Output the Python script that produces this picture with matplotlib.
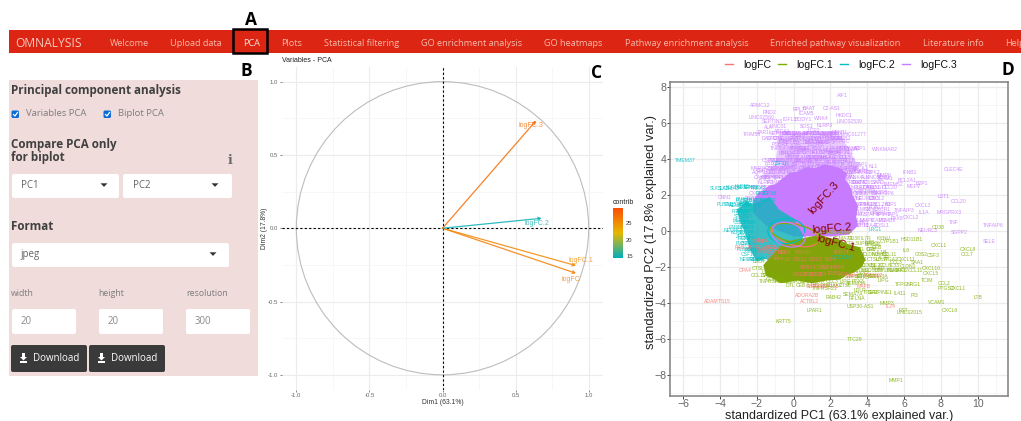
import matplotlib
matplotlib.use("Agg")
import numpy as np
import matplotlib.pyplot as plt
import matplotlib.patches as patches
from itertools import cycle
from matplotlib.colors import LinearSegmentedColormap, Normalize
from matplotlib.lines import Line2D

# nav bar and side panel
nav_labels = ["Welcome", "Upload data", "PCA", "Plots", "Statistical filtering", "GO enrichment analysis",
              "GO heatmaps", "Pathway enrichment analysis", "Enriched pathway visualization", "Literature info"]
nav_centers = [129, 196, 252, 292, 362, 472, 573, 687, 835, 953]

# variables PCA (panel C)
var_names = ["logFC", "logFC.1", "logFC.2", "logFC.3"]
var_x = [0.913, 0.913, 0.678, 0.640]
var_y = [-0.307, -0.255, 0.068, 0.734]
var_contrib = [26.0, 25.5, 14.8, 27.5]
var_label_x = [0.879, 0.945, 0.644, 0.607]
var_label_y = [-0.348, -0.223, 0.031, 0.698]

# biplot labels (panel D)
purple_names = ["AIF1", "ARMC12", "RND2", "RPL7", "BAAT", "C2-AS1", "ICAM5", "HKDC1", "LINC02539", "LINC02560",
                "SEPTIN3", "IGFL1", "BODY1", "WNK4", "ALK", "LINC01", "SOS1", "NLRP3", "TRIM58", "ZAR1L", "DACT2",
                "LINC01277", "SAA2", "PSCR1", "CD8A", "WNKMAR2", "CLEC4E", "IFNB1", "LST1", "CCL20", "CXCL3", "IL1A",
                "MRGPRX3", "TNFAIP3", "TNF", "TNFAIP6", "SGPP2", "SELE", "NEURL3", "CXCL2", "PAX8", "MEFV", "BCL2A1",
                "B2P1", "TMEM52", "CNN1", "CXCR1", "NFKB2", "STAT4", "SP140", "TAP1", "NL1", "MMP9", "ICAM1",
                "PSMB9", "ZC3H12", "HLA-E", "FOSL1", "CSF2", "ZNF676", "KCNH2", "ITGB7", "SLC2A6", "GBP5", "IRF1",
                "IL7R", "TRAF1", "RELB", "NFKB1", "BIRC3", "TNIP1", "DUSP2", "SOD2", "CCL5", "PLEK", "FPR1", "CD83",
                "MAP3K8", "CD69", "SLAMF7", "LAMP3", "HCAR2", "OASL", "IDO1", "EBI3", "CD274", "MX1", "GPR84",
                "ABCA1", "AQP9", "LCP2", "DOCK2", "PTPRC", "NCF2", "TLR2", "LILRB2", "CYTIP", "PIK3CD", "RIPK2", "CASP5"]
purple_x = [2.66, -1.79, -1.29, 0.30, 0.82, 2.08, 0.71, 2.75, 3.03, -1.74,
            -1.16, -0.20, 0.53, 1.52, -1.38, -0.83, 0.71, 1.70, -2.28, -1.56, -1.29,
            3.24, 2.34, -0.74, 3.15, 4.96, 8.71, 6.29, 8.17, 8.97, 7.05, 7.08,
            8.46, 6.00, 8.68, 10.85, 9.00, 10.63, 7.26, 6.36, 5.60, 6.50, 6.14,
            6.96, 5.42, -3.73, -0.2, 1.0, 3.5, 3.9, 3.7, 4.3, 4.9, 5.0,
            4.0, 3.3, 3.1, 4.5, -1.7, -1.4, -0.8, 0.2, 1.3, 2.2, 1.6,
            0.1, 0.9, 1.8, 2.5, -0.4, 0.5, 1.2, 2.0, 2.8, -0.9, -1.2, -0.2,
            0.7, 1.5, 2.3, 3.0, 3.6, 4.1, 3.4, 4.4, 2.9, 3.8, 4.6,
            -0.6, 0.3, 1.1, 1.9, 2.6, 0.0, 0.8, 1.6, 2.4, -0.3, 3.3, 4.7]
purple_y = [7.52, 7.00, 6.57, 6.76, 6.81, 6.81, 6.54, 6.43, 6.07, 6.30,
            6.11, 6.22, 6.17, 6.26, 5.74, 5.80, 5.80, 5.89, 5.37, 5.46, 5.15,
            5.37, 5.15, 4.78, 4.54, 4.54, 3.43, 3.24, 1.91, 1.63, 1.41, 1.04,
            1.04, 1.13, 0.46, 0.28, -0.07, -0.57, 0.02, 0.74, 0.70, 2.46, 2.83,
            2.65, 2.61, 1.85, 5.40, 5.40, 2.70, 1.50, 3.70, 3.60, 3.10, 2.90,
            2.20, 1.00, 1.90, 1.30, 3.35, 2.90, 3.50, 3.90, 4.10, 4.30, 4.90,
            4.70, 5.10, 5.35, 5.45, 4.30, 4.50, 4.80, 4.50, 4.10, 3.90, 3.70, 3.55,
            3.85, 3.60, 3.80, 3.50, 3.30, 2.40, 2.20, 1.80, 0.70, 0.50, 0.95,
            5.55, 5.30, 5.60, 5.25, 5.00, 4.20, 3.50, 4.00, 3.20, 5.05, 0.30, 2.15]
# the crowded labels, read row by row: one y and the x positions along it
purple_row_y = [5.4, 5.15, 4.9, 4.6, 4.35, 4.1, 3.9, 3.7, 3.5, 3.25, 3.0, 2.7, 2.4, 2.1, 1.8, 1.5, 1.2, 0.9, 0.6, 0.3]
purple_row_x = [[-0.7, -0.3, 0.0, 0.4, 0.7, 1.0, 1.3, 1.7, 2.0, 2.3],
                [-1.0, -0.4, 0.1, 0.6, 1.2, 1.8, 2.2, 2.7],
                [-0.6, -0.1, 0.4, 0.9, 1.3, 1.7],
                [-1.0, -0.3, 0.2, 0.6, 1.0, 1.5, 2.3, 2.7, 3.1, 3.6],
                [-0.2, 0.4, 0.9, 1.3, 1.8, 2.2, 2.6, 3.0],
                [-0.1, 0.5, 1.1, 1.5, 2.0, 2.5],
                [-1.4, -0.9, -0.5, 0.0, 0.5, 1.0, 1.5, 2.0, 2.5, 3.0],
                [-0.2, 0.3, 0.8, 1.2, 1.6, 2.0, 2.4, 2.9, 3.3],
                [-1.8, -1.2, -0.8, -0.3, 0.2, 0.6, 1.1, 1.6, 2.1, 2.6, 3.1, 3.6],
                [-1.9, -1.3, -0.9, -0.4, 0.0, 0.5, 2.9, 3.3, 3.8, 4.3],
                [-1.7, -1.1, -0.7, 2.9, 3.4, 3.9, 4.4, 4.9],
                [-1.5, -1.0, 3.1, 3.6, 4.1, 4.6],
                [-1.9, -1.4, 3.2, 3.8, 4.3, 4.8, 5.2],
                [-2.0, -1.6, 3.3, 3.9, 4.4, 4.9],
                [-2.2, 3.4, 3.9, 4.5],
                [3.6, 4.2, 4.8, 5.3],
                [3.6, 4.2, 4.8],
                [3.5, 4.2, 4.9, 5.4],
                [3.5, 4.0, 4.6, 5.1],
                [3.6, 4.2, 4.8]]

olive_names = ["MMP1", "TTC29", "KRT75", "LPAR1", "USP30-AS1", "MMP3", "FST", "LINC02015", "RAB42", "VCAM1", "CXCL6",
               "LTB", "PI3", "IL411", "CCL2", "PTGS2", "CXCL1", "TCIM", "CXCL5", "CXCL10", "CXCL11", "IL6", "G0S2",
               "CSF3", "CXCL1", "CXCL8", "CCL7", "SEMA3A", "TNFRSF21", "RFLNA", "SEMA7A", "CD38", "IL7R", "CCL3",
               "LIPG", "PTX3", "DTL", "CEB", "IL1B", "CLDN1", "NUAK2", "CCL11", "SAA1", "CTSL", "LDLR", "ITGA2",
               "COL8A1", "CCDC3", "UBE2C", "CCL8", "IL33", "LINC01", "KYNU", "HSD11B1", "CYP1B1", "PLAU", "TFPI2",
               "NRG1", "AREG", "SERPINE1"]
olive_x = [5.54, 3.33, -0.56, 1.12, 3.64, 5.05, 5.96, 6.29, 2.16, 7.77, 8.50,
           10.00, 6.56, 5.78, 8.17, 8.30, 8.95, 7.23, 7.46, 7.46, 6.14, 6.10, 6.92,
           7.59, 7.92, 9.46, 9.42, 3.42, 1.70, 3.42, 3.24, 7.86, 4.90, 5.55,
           4.90, 3.75, 4.20, 4.50, 4.80, 6.20, 5.70, 6.60, 6.70, 2.80, 3.60, 4.20,
           -1.00, 0.20, -1.30, -0.75, 4.10, 4.35, 4.90, 6.40, 5.20, 4.60, 5.90, 6.50, 3.90, 4.70]
olive_y = [-8.33, -6.00, -5.00, -4.43, -4.20, -4.02, -4.39, -4.54, -3.70, -3.96, -4.43,
           -3.69, -3.57, -3.46, -2.93, -3.19, -3.20, -2.76, -2.37, -2.06, -1.57, -1.07, -1.28,
           -1.37, -0.81, -1.04, -1.31, -2.90, -3.19, -3.74, -3.52, 0.20, -1.45, -1.75,
           -2.75, -2.60, -1.00, -0.90, -1.20, -1.95, -2.20, -2.20, -1.75, -3.05, -3.30, -3.40,
           -2.67, -2.70, -2.30, -2.45, -0.65, -0.75, -0.40, -0.45, -0.60, -2.10, -2.95, -2.95, -2.35, -3.40]
olive_row_y = [-0.1, -0.4, -0.7, -1.0, -1.3, -1.6, -1.9, -2.2, -2.5, -2.8, -3.0, -2.45, -2.1, -1.7]
olive_row_x = [[1.5, 2.2, 2.8],
               [2.7, 3.3, 3.9],
               [3.2, 3.8, 4.3],
               [3.6, 4.2],
               [3.6, 4.2, 4.7, 5.2],
               [3.7, 4.3, 4.8, 5.3],
               [3.4, 4.0, 4.5, 5.0, 5.5],
               [3.1, 3.7, 4.3, 4.9, 5.4, 5.9],
               [2.8, 3.4, 4.0, 4.6],
               [-1.2, -0.6, 0.0, 0.7, 1.4, 2.1, 2.8, 3.5],
               [-0.2, 0.4, 1.0, 1.6, 2.2],
               [-1.9, -1.4],
               [-1.9],
               [-1.9]]

teal_names = ["TMEM37", "SUCLA2", "SLC16A3", "KLF15", "SENP8", "RFX2", "ZFP36", "PLBD1", "PLBSP3", "ASH1", "CSF1R",
              "NEURL1", "ZFP82", "PDGFB", "FRMD4", "HSPB7", "STAB1", "LRG1", "CCDC80", "CSPG4", "EMILIN1", "MFAP4"]
teal_x = [-5.90, -4.00, -3.55, -2.80, -2.30, -1.90, -2.55, -3.75, -3.25, -2.65, -0.70,
          -3.28, -2.70, -2.20, -2.10, -2.85, -2.70, 4.42, 2.60, -2.45, -2.60, -2.50]
teal_y = [3.94, 2.37, 2.36, 2.50, 2.40, 2.38, 1.20, 1.48, 1.50, 1.48, 3.75,
          0.02, -0.30, -1.10, -1.60, 0.60, 0.95, 0.09, -1.45, -0.70, 1.75, 1.55]
teal_row_y = [2.4, 2.1, 1.7, 1.4, 1.1, 0.8, 0.5, 0.2, -0.1, -0.4, -0.7, -1.0, -1.3, -1.6]
teal_row_x = [[-3.3, -2.6],
              [-1.7, -1.3],
              [-2.7, -2.2, -1.8, -1.4],
              [-3.0, -2.6, -2.2],
              [-2.9, -2.5],
              [-2.8, -2.5],
              [-2.7, -2.5],
              [-3.0, -2.6],
              [-3.0, -2.6],
              [-2.7, -2.4],
              [-2.7],
              [-2.6, -2.3],
              [-2.4],
              [-2.4, -1.9]]

salmon_names = ["ADAMTS15", "CPA4", "RAB11FIP", "ADORA2B", "ACTBL2", "GBP1", "IL24", "PDE4", "SP4", "ADAM12", "TRIB1",
                "ZNF185", "NEK6", "PPP1R", "RGS2", "ODC1", "KLF4", "SPRY4", "ETS1", "MAFB"]
salmon_x = [-4.13, -2.64, -2.55, 0.71, 0.89, 1.03, 5.27, -1.60, 3.05, 4.30, 2.20,
            -1.30, -1.75, -0.60, 0.30, 1.20, 1.80, 2.60, -1.10, 3.80]
salmon_y = [-3.89, -2.22, -0.91, -3.59, -3.89, -3.06, -4.22, -1.15, -2.50, -2.45, -2.35,
            -1.00, -0.55, -1.60, -2.40, -2.40, -2.05, -1.20, -1.45, -3.10]
salmon_row_y = [-0.6, -0.9, -1.2, -1.6, -2.0, -2.4, -3.1]
salmon_row_x = [[-2.0, -1.6],
                [-1.5, -1.1],
                [-0.9, -0.5, 0.5],
                [0.4, 1.2, 2.0],
                [0.8, 1.6, 2.4],
                [0.9, 1.6, 3.0],
                [1.4, 2.0]]

# outlines of the areas where the labels overlap into a solid colour
purple_blob_x = [-2.2, -1.9, -1.6, -1.3, -1.0, -0.7, -0.5, -0.2, 0.2, 0.7, 1.2, 1.7, 2.2, 2.6, 2.9, 2.8, 3.0, 3.15, 3.2, 3.5, 3.4, 3.5, 3.0, 2.0, 0.0, -1.5, -2.2]
purple_blob_y = [1.7, 2.15, 2.3, 2.55, 2.6, 2.85, 3.0, 3.25, 3.3, 3.55, 3.5, 3.7, 3.6, 3.45, 3.2, 2.85, 2.6, 2.3, 2.0, 1.4, 0.8, 0.3, -0.2, -0.3, -0.3, 0.3, 1.0]
purple_haze_x = [-1.8, -1.0, -0.8, 2.4, 3.0, 3.5, 3.0]
purple_haze_y = [3.0, 3.7, 5.5, 5.5, 4.6, 3.6, 2.8]
teal_blob_x = [-3.1, -2.8, -2.6, -2.3, -2.0, -1.6, -1.3, -0.8, 0.0, 0.5, 0.0, -1.0, -1.6, -2.0, -2.2, -2.4, -2.5, -2.6, -2.75, -2.9]
teal_blob_y = [1.2, 1.4, 1.7, 1.5, 1.6, 1.75, 1.9, 1.2, 0.7, -0.2, -1.3, -1.7, -1.55, -1.7, -1.35, -1.0, -0.6, -0.2, 0.15, 0.5]
olive_blob_x = [-1.4, -0.5, 1.0, 1.4, 2.0, 2.5, 3.0, 3.6, 3.9, 3.7, 3.3, 2.9, 2.5, 1.8, 1.0, 0.2, -0.7, -1.2, -1.5, -1.65]
olive_blob_y = [-1.6, -0.6, -0.3, -0.2, -0.4, -0.5, -0.75, -0.9, -1.6, -2.0, -2.3, -2.45, -2.7, -2.75, -2.9, -2.75, -2.9, -2.6, -2.5, -1.9]

# ellipses: colour, centre, width, height, angle
ell_colors = ["#F8766D", "#7CAE00", "#00BFC4", "#C77CFF"]
ell_cx = [0.1, 0.1, -0.4, -0.3]
ell_cy = [-0.2, -0.15, 0.0, -0.2]
ell_w = [2.6, 2.8, 2.0, 1.9]
ell_h = [1.2, 1.0, 1.4, 1.3]
ell_angle = [-15, -12, 0, -20]

# arrow names on the biplot
load_names = ["logFC.3", "logFC.2", "logFC.1"]
load_x = [1.67, 2.07, 2.30]
load_y = [1.85, 0.15, -0.69]
load_rot = [48, 4, -15]

W, H = 1021, 421
fig = plt.figure(figsize=(W / 100, H / 100), dpi=100)
plt.rcParams['font.family'] = ['Liberation Sans', 'DejaVu Sans']


def px_axes(left, top, right, bottom):
    return fig.add_axes([left / W, 1 - bottom / H, (right - left) / W, (bottom - top) / H])


# ---- UI layer
ui = fig.add_axes([0, 0, 1, 1])
ui.set_xlim(0, W)
ui.set_ylim(H, 0)
ui.axis("off")
OS = ['Open Sans', 'DejaVu Sans']

ui.add_patch(patches.Rectangle((9, 29.5), W - 9, 23.5, fc="#DC2512", ec="none"))
ui.text(15, 43.5, "OMNALYSIS", color="#F7C9BE", fontsize=8.7, family=OS, va="center")
for lab, c in zip(nav_labels, nav_centers):
    ui.text(c, 43.5, lab, color="#F6B9AB" if lab != "PCA" else "#FBE3DC", fontsize=6.6, family=OS, ha="center", va="center")
ui.text(1005, 43.5, "Help", color="#F6B9AB", fontsize=6.6, family=OS, va="center", clip_on=True)
ui.add_patch(patches.Rectangle((233, 29), 34, 24, fc="none", ec="black", lw=1.8))
for lab, x, y in [("A", 251, 20), ("B", 246, 71), ("C", 597, 73), ("D", 1008, 70)]:
    ui.text(x, y, lab, color="black", fontsize=12.5, fontweight="bold", family=OS, ha="center", va="center")

ui.add_patch(patches.Rectangle((9, 80), 249, 295.5, fc="#EFDCDB", ec="none"))
DARK = "#404040"
ui.text(11, 90.5, "Principal component analysis", color=DARK, fontsize=8.4, fontweight="bold", family=OS, va="center")
for x, lab in [(15.5, "Variables PCA"), (107.5, "Biplot PCA")]:
    ui.add_patch(patches.FancyBboxPatch((x - 4, 110.5), 7.5, 7.5,
                                        boxstyle="round,pad=0,rounding_size=1.5", fc="#0B6BD6", ec="none"))
    ui.plot([x - 2, x - 0.5, x + 2], [114.5, 116, 112.5], color="white", lw=0.9)
    ui.text(x + 10, 114, lab, color="#7d7d7d", fontsize=6.8, family=OS, va="center")
ui.text(11, 144.5, "Compare PCA only", color=DARK, fontsize=8.4, fontweight="bold", family=OS, va="center")
ui.text(11, 157.5, "for biplot", color=DARK, fontsize=8.4, fontweight="bold", family=OS, va="center")
ui.text(230, 160, "i", color="#666666", fontsize=9, fontweight="bold", family="DejaVu Serif", ha="center", va="center")


def box(x0, y0, x1, y1, fc="white"):
    ui.add_patch(patches.FancyBboxPatch((x0, y0), x1 - x0, y1 - y0, boxstyle="round,pad=0,rounding_size=2",
                                        fc=fc, ec="none"))


def caret(x, y):
    ui.add_patch(patches.Polygon([[x - 3.5, y - 1.7], [x + 3.5, y - 1.7], [x, y + 1.9]], fc="#333333", ec="none"))


box(12, 174, 119, 198)
box(123, 174, 232, 198)
box(12, 243, 229, 267)
ui.text(20.5, 186, "PC1", color="#666666", fontsize=7, family=OS, va="center")
ui.text(132.5, 186, "PC2", color="#666666", fontsize=7, family=OS, va="center")
ui.text(20, 255, "jpeg", color="#666666", fontsize=7, family=OS, va="center")
caret(104, 185)
caret(215, 185)
caret(213, 254)
ui.text(11, 226.5, "Format", color=DARK, fontsize=8.4, fontweight="bold", family=OS, va="center")
for x, xb, lab, val in [(11, 12, "width", "20"), (98, 99, "height", "20"), (186, 186, "resolution", "300")]:
    ui.text(x, 294, lab, color="#7d7d7d", fontsize=6.3, family=OS, va="center")
    box(xb, 309, xb + 64, 334)
    ui.text(xb + 9, 321.5, val, color="#8a8a8a", fontsize=6.9, family=OS, va="center")
for x0 in (11, 89):
    box(x0, 345, x0 + 76, 372, fc="#3A3A3A")
    ui.add_patch(patches.Polygon([[x0 + 11, 353], [x0 + 14, 353], [x0 + 14, 357], [x0 + 16, 357], [x0 + 12.5, 360.5],
                                  [x0 + 9, 357], [x0 + 11, 357]], fc="white", ec="none"))
    ui.add_patch(patches.Rectangle((x0 + 9, 361), 7, 2, fc="white", ec="none"))
    ui.text(x0 + 21.5, 358.5, "Download", color="white", fontsize=7, family=OS, va="center")

# ---- panel C
ax = px_axes(281.7, 67, 603.3, 389.5)
ax.set_xlim(-1.1, 1.1)
ax.set_ylim(-1.1, 1.1)
for s in ax.spines.values():
    s.set_visible(False)
ax.set_facecolor("none")
ax.set_xticks([-1, -0.5, 0, 0.5, 1])
ax.set_yticks([-1, -0.5, 0, 0.5, 1])
ax.set_xticks([-0.75, -0.25, 0.25, 0.75], minor=True)
ax.set_yticks([-0.75, -0.25, 0.25, 0.75], minor=True)
ax.grid(which="major", color="#ECECEC", lw=0.8)
ax.grid(which="minor", color="#F4F4F4", lw=0.5)
ax.set_axisbelow(True)
ax.tick_params(which="minor", length=0)
ax.tick_params(which="major", length=1.5, width=0.5, color="#555555", labelsize=4.3, labelcolor="#666666", pad=1)
ax.xaxis.set_major_formatter(lambda v, p: "%.1f" % v)
ax.yaxis.set_major_formatter(lambda v, p: "%.1f" % v)
ax.add_patch(patches.Circle((0, 0), 1, fc="none", ec="#BDBDBD", lw=0.8))
ax.axhline(0, color="black", lw=0.8, ls=(0, (2, 2)))
ax.axvline(0, color="black", lw=0.8, ls=(0, (2, 2)))

cmap = LinearSegmentedColormap.from_list("contrib", ["#00AFBB", "#E7B800", "#FC4E07"])
norm = Normalize(14.5, 29.5)
for n, x, y, c, lx, ly in zip(var_names, var_x, var_y, var_contrib, var_label_x, var_label_y):
    col = cmap(norm(c))
    ax.annotate("", xy=(x, y), xytext=(0, 0),
                arrowprops=dict(arrowstyle="->,head_length=0.18,head_width=0.1", color=col, lw=0.9, alpha=0.85,
                                mutation_scale=10, shrinkA=0, shrinkB=0))
    ax.text(lx, ly, n, color=col, alpha=0.75, fontsize=5.1, ha="center", va="center")

ui.text(282, 60, "Variables - PCA", color="#222222", fontsize=5, va="center")
ui.text(442.5, 402, "Dim1 (63.1%)", color="#333333", fontsize=4.9, ha="center", va="center")
ui.text(264, 228, "Dim2 (17.8%)", color="#333333", fontsize=4.9, ha="center", va="center", rotation=90)

cb = px_axes(612.7, 208, 622.7, 258)
cb.imshow(np.linspace(29.5, 14.5, 100).reshape(-1, 1), aspect="auto", cmap=cmap, norm=norm,
          extent=[0, 1, 14.5, 29.5])
cb.set_xticks([])
cb.yaxis.tick_right()
cb.set_yticks([15, 20, 25])
cb.tick_params(length=0, labelsize=4.2, labelcolor="#333333", pad=2.5)
for s in cb.spines.values():
    s.set_visible(False)
ui.text(612.5, 202, "contrib", color="#222222", fontsize=5, va="center")

# ---- panel D
bx = px_axes(670, 82, 1008, 395.7)
bx.set_xlim(-6.72, 11.65)
bx.set_ylim(-9.15, 8.28)
bx.set_facecolor("white")
bx.set_xticks(np.arange(-6, 11, 2))
bx.set_yticks(np.arange(-8, 9, 2))
bx.set_xticks(np.arange(-5, 12, 2), minor=True)
bx.set_yticks(np.arange(-9, 9, 2), minor=True)
bx.grid(which="major", color="#EBEBEB", lw=0.9)
bx.grid(which="minor", color="#F3F3F3", lw=0.5)
bx.set_axisbelow(True)
bx.tick_params(which="minor", length=0)
bx.tick_params(which="major", length=2, width=0.7, color="#444444", labelsize=7.6, labelcolor="#666666", pad=0.5)
for s in bx.spines.values():
    s.set_color("#7F7F7F")
    s.set_linewidth(1.1)
bx.set_xlabel("standardized PC1 (63.1% explained var.)", fontsize=9, color="#222222", labelpad=0.5)
bx.set_ylabel("standardized PC2 (17.8% explained var.)", fontsize=9.3, color="#222222", labelpad=1)
bx.yaxis.set_label_coords(-0.038, 0.522)

bx.fill(purple_haze_x, purple_haze_y, color="#C77CFF", alpha=0.4, lw=0, zorder=0.9)
bx.fill(purple_blob_x, purple_blob_y, color="#C77CFF", lw=0, zorder=1)
bx.fill(teal_blob_x, teal_blob_y, color="#17B4BE", alpha=0.85, lw=0, zorder=1.1)
bx.fill(olive_blob_x, olive_blob_y, color="#82A30A", lw=0, zorder=1.2)


def labels(names, xs, ys, col):
    for n, x, y in zip(names, xs, ys):
        bx.text(x, y, n, color=col, alpha=0.85, fontsize=3.7, ha="center", va="center", zorder=2, clip_on=True)


def row_labels(names, row_y, row_x, col):
    nm = cycle(names)
    for y, xs in zip(row_y, row_x):
        for x in xs:
            bx.text(x, y, next(nm), color=col, alpha=0.85, fontsize=3.7, ha="center", va="center", zorder=2,
                    clip_on=True)


labels(purple_names, purple_x, purple_y, "#C77CFF")
row_labels(purple_names[10:], purple_row_y, purple_row_x, "#C77CFF")
labels(teal_names, teal_x, teal_y, "#00BFC4")
row_labels(teal_names[3:], teal_row_y, teal_row_x, "#00BFC4")
labels(olive_names, olive_x, olive_y, "#7CAE00")
row_labels(olive_names[27:], olive_row_y, olive_row_x, "#7CAE00")
labels(salmon_names, salmon_x, salmon_y, "#F8766D")
row_labels(salmon_names[7:], salmon_row_y, salmon_row_x, "#F8766D")

for col, cx, cy, w, h, a in zip(ell_colors, ell_cx, ell_cy, ell_w, ell_h, ell_angle):
    bx.add_patch(patches.Ellipse((cx, cy), w, h, angle=a, fc="none", ec=col, lw=0.9, zorder=3))

for n, x, y, r in zip(load_names, load_x, load_y, load_rot):
    bx.text(x, y, n, color="#8B0000", fontsize=8.2, rotation=r, ha="center", va="center", zorder=4,
            rotation_mode="anchor")

handles = [Line2D([], [], color=c, lw=1) for c in ell_colors]
fig.legend(handles, ["logFC", "logFC.1", "logFC.2", "logFC.3"], loc="center", bbox_to_anchor=(841 / W, 1 - 65 / H),
           ncol=4, frameon=False, fontsize=7.6, handlelength=0.75, handletextpad=1.0, columnspacing=0.65,
           labelcolor="#111111")

fig.savefig("out.png", dpi=100)
